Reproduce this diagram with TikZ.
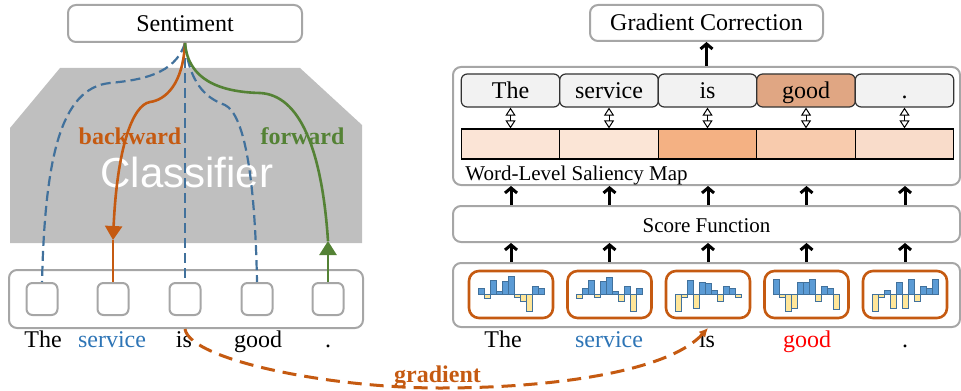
\documentclass[tikz,border=0pt]{standalone}
\usepackage{fontspec}
\setmainfont{Liberation Serif}
\newfontfamily\sansf{Liberation Sans}
\usetikzlibrary{arrows.meta}
\definecolor{boxgray}{HTML}{A6A6A6}
\definecolor{clsgray}{HTML}{BFBFBF}
\definecolor{orangec}{HTML}{C55A11}
\definecolor{greenc}{HTML}{548235}
\definecolor{bluedash}{HTML}{41719C}
\definecolor{servblue}{HTML}{2E75B6}
\definecolor{wordgray}{HTML}{F2F2F2}
\definecolor{goodfill}{HTML}{E0A683}
\definecolor{salA}{HTML}{FBE4D6}
\definecolor{salB}{HTML}{FBE5D6}
\definecolor{salC}{HTML}{F4B183}
\definecolor{salD}{HTML}{F8CBAD}
\definecolor{salE}{HTML}{F9DCCA}
\definecolor{barblue}{HTML}{5B9BD5}
\definecolor{baryellow}{HTML}{FFE699}
\definecolor{barline}{HTML}{41719C}
\newcommand\histbars[2]{%
  \foreach \v [count=\i from 0] in {#2} {
    \pgfmathsetmacro\xa{#1-33+6*\i}
    \pgfmathsetmacro\xb{\xa+6}
    \ifdim \v pt>0pt \def\bc{barblue}\else\def\bc{baryellow}\fi
    \filldraw[fill=\bc, draw=barline, line width=0.5pt] (\xa,294.5) rectangle (\xb,{294.5-(\v)});
  }}
\begin{document}
\begin{tikzpicture}[x=0.5pt,y=-0.5pt,
  graybox/.style={draw=boxgray, line width=1pt, rounded corners=4pt, inner sep=0pt},
  sqbox/.style={draw=boxgray, line width=1pt, rounded corners=3pt, fill=white, minimum width=15.5pt, minimum height=16pt, inner sep=0pt},
  txt/.style={font=\fontsize{12}{14}\selectfont, inner sep=0pt},
  boxtxt/.style={text height=10pt, text depth=2pt},
  wordbox/.style={draw=black!80, line width=0.6pt, rounded corners=3pt, fill=wordgray, minimum width=49.25pt, minimum height=16.5pt, inner sep=0pt, txt, boxtxt},
  salbox/.style={draw=black, line width=0.6pt, minimum width=49.25pt, minimum height=15pt, inner sep=0pt},
  histbox/.style={draw=orangec, line width=1.3pt, rounded corners=5pt, minimum width=42pt, minimum height=23.5pt, inner sep=0pt},
  upar/.style={line width=1.5pt, -{Straight Barb[length=2.5pt,width=6pt]}},
  dblar/.style={line width=0.5pt, {Triangle[open,length=4pt,width=5pt]}-{Triangle[open,length=4pt,width=5pt]}},
  bdash/.style={draw=bluedash, line width=1.1pt, dash pattern=on 5pt off 2.5pt},
  orline/.style={draw=orangec, line width=1.3pt},
  grline/.style={draw=greenc, line width=1.3pt},
  lbl/.style={font=\fontsize{12}{14}\selectfont\bfseries, inner sep=0pt, anchor=base}
]
\useasboundingbox (0,0) rectangle (961,390);

% ---------- left: classifier ----------
\fill[clsgray] (60,68) -- (300,68) -- (362,125) -- (362,243) -- (10,243) -- (10,128) -- cycle;
\node[inner sep=0pt, anchor=base, text=white, font=\sansf\fontsize{21}{24}\selectfont] (cls) at (187,187) {Classifier};

\node[graybox, fill=white, minimum width=117pt, minimum height=18.5pt, txt, boxtxt] (sent) at (185,23.5) {Sentiment};
\node[graybox, minimum width=177pt, minimum height=29pt] (inp) at (186,299) {};
\foreach \n/\x in {1/42,2/113,3/185,4/257,5/328}
  \node[sqbox] (q\n) at (\x,299) {};

\coordinate (bk) at (113,240);
\coordinate (fw) at (328,241);

% dashed blue
\draw[bdash] (sent.south) .. controls (175,75) and (140,80) .. (110,83) .. controls (60,88) and (45,160) .. (q1.north);
\draw[bdash] (sent.south) -- (q3.north);
\draw[bdash] (sent.south) .. controls (190,90) and (212,100) .. (225,105) .. controls (245,115) and (255,180) .. (q4.north);
% backward
\draw[orline, -{Triangle[length=7pt,width=8.5pt]}] (sent.south) .. controls (183,85) and (165,100) .. (150,102) .. controls (132,105) and (117,150) .. (bk);
\draw[orline] (bk) -- (q2.north);
% forward
\draw[grline, -{Triangle[length=7pt,width=8.5pt]}] (q5.north) -- (fw);
\draw[grline] (fw) .. controls (322,150) and (300,95) .. (260,93) .. controls (220,92) and (188,80) .. (sent.south);

\node[lbl, text=orangec] (bw) at (130,144) {backward};
\node[lbl, text=greenc] (fwl) at (302.5,144) {forward};

\node[txt, anchor=base] (lw1) at (43,347) {The};
\node[txt, anchor=base, text=servblue] (lw2) at (112,347) {service};
\node[txt, anchor=base] (lw3) at (184,347) {is};
\node[txt, anchor=base] (lw4) at (258,347) {good};
\node[txt, anchor=base] (lw5) at (328,347) {.};

% ---------- right ----------
\node[graybox, fill=white, minimum width=116.5pt, minimum height=18pt, txt, boxtxt] (gc) at (706.5,23) {Gradient Correction};
\node[graybox, minimum width=253.5pt, minimum height=59pt] (big) at (706.5,126) {};
\node[graybox, minimum width=253.5pt, minimum height=18pt, boxtxt, font=\fontsize{10.5}{12}\selectfont] (score) at (706.5,224) {Score Function};
\node[graybox, minimum width=253.5pt, minimum height=32pt] (hc) at (706.5,295) {};

\node[wordbox] (w1) at (510.5,90.5) {The};
\node[wordbox] (w2) at (609,90.5) {service};
\node[wordbox] (w3) at (707.5,90.5) {is};
\node[wordbox, fill=goodfill] (w4) at (806,90.5) {good};
\node[wordbox] (w5) at (904.5,90.5) {.};

\node[salbox, fill=salA] (s1) at (510.5,144) {};
\node[salbox, fill=salB] (s2) at (609,144) {};
\node[salbox, fill=salC] (s3) at (707.5,144) {};
\node[salbox, fill=salD] (s4) at (806,144) {};
\node[salbox, fill=salE] (s5) at (904.5,144) {};

\foreach \n in {1,...,5} \draw[dblar] (w\n.south) -- (s\n.north);

\node[inner sep=0pt, anchor=base west, font=\fontsize{10.5}{12}\selectfont] (wlsm) at (465,180) {Word-Level Saliency Map};

\draw[upar] (big.north) -- (gc.south);

\foreach \n/\x in {1/511,2/609.5,3/708,4/806.5,5/905}
  \node[histbox] (h\n) at (\x,294.5) {};

\foreach \n in {1,...,5} {
  \draw[upar] (score.north -| h\n) -- (big.south -| h\n);
  \draw[upar] (hc.north -| h\n) -- (score.south -| h\n);
}

\histbars{511}{6,-4,14,3,13,18,-3,-7,-17,8,6}
\histbars{609.5}{-4,6,14,-3,13,17,3,-7,8,-17,6}
\histbars{708}{-17,-3,14,-14,12,11,4,-7,8,6,-3}
\histbars{806.5}{15,-3,-17,-14,12,12,15,-7,8,6,-15}
\histbars{905}{-17,-3,4,-14,12,-14,15,-7,8,6,15}

\node[txt, anchor=base] (rw1) at (503,347) {The};
\node[txt, anchor=base, text=servblue] (rw2) at (609,347) {service};
\node[txt, anchor=base] (rw3) at (707,347) {is};
\node[txt, anchor=base, text=red] (rw4) at (807,347) {good};
\node[txt, anchor=base] (rw5) at (905,347) {.};

% gradient
\draw[draw=orangec, line width=1.5pt, dash pattern=on 7pt off 4pt, -{Latex[length=4.5pt,width=4.5pt]}]
  (inp.south -| q3) .. controls (190,360) and (330,388) .. (440,388) .. controls (560,388) and (670,370) .. (hc.south -| h3);
\node[lbl, text=orangec] (gl) at (437.5,382) {gradient};
\end{tikzpicture}
\end{document}
